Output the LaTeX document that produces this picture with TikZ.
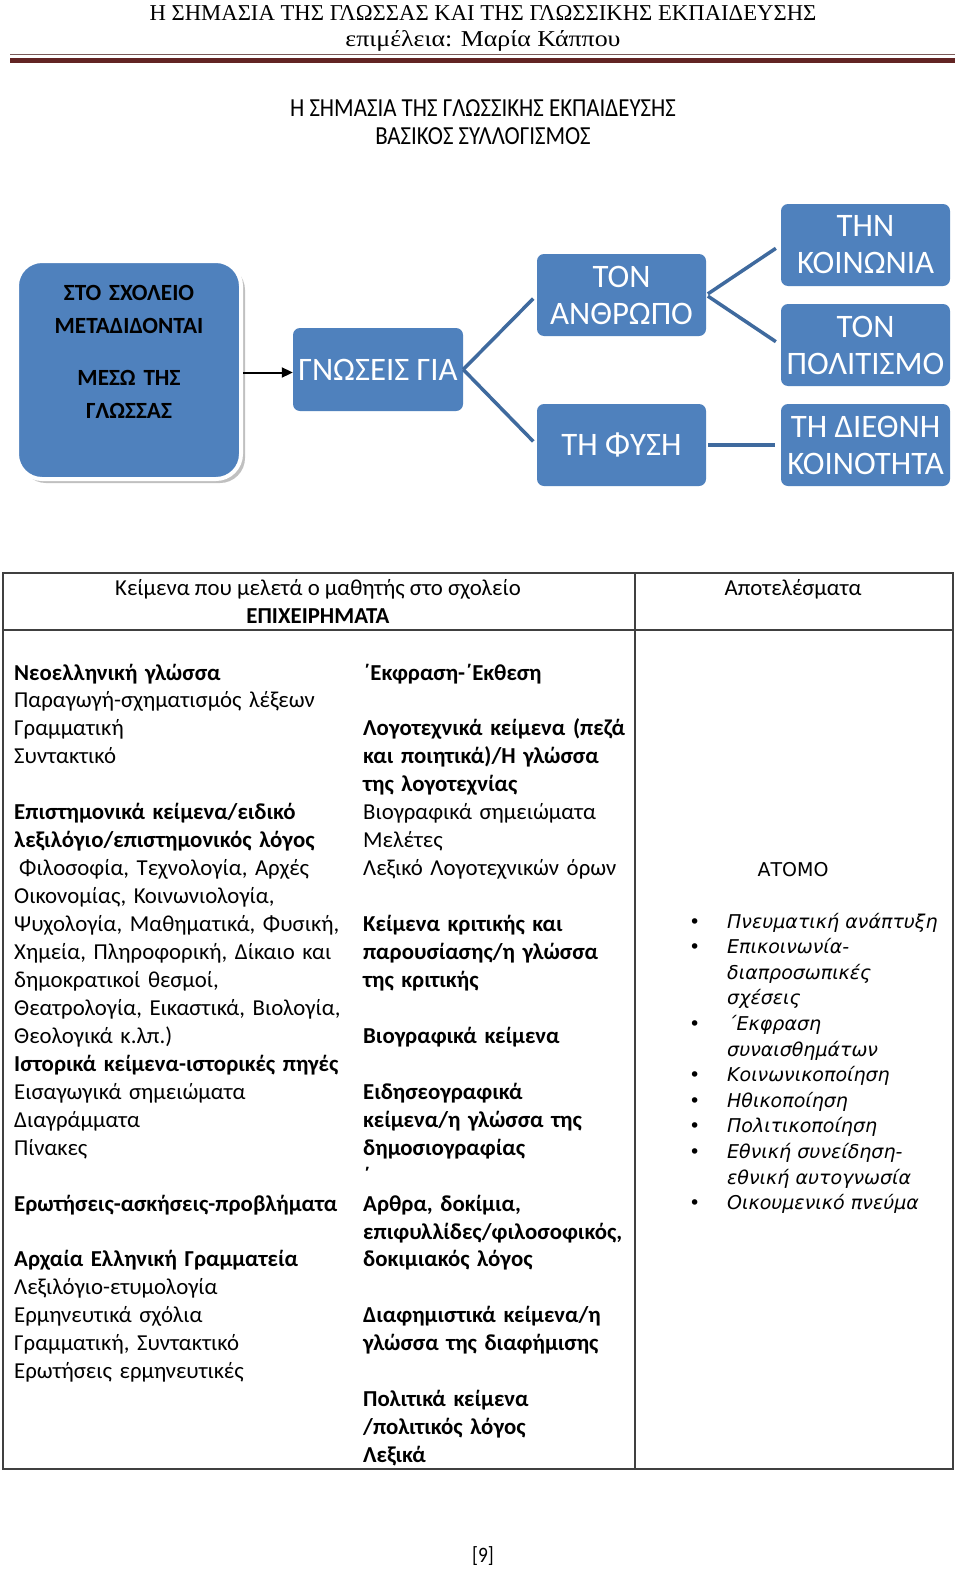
\documentclass[tikz,border=0pt]{standalone}
\usepackage{fontspec}
\setmainfont{Carlito}
\newfontfamily\hdrfont{Liberation Serif}
\newfontfamily\hdrfontw[FakeStretch=1.14]{Liberation Serif}
\newfontfamily\narrowfont[FakeStretch=0.88]{Carlito}
\newfontfamily\gothfont{DejaVu Sans}
\usetikzlibrary{arrows.meta,shadows}
\definecolor{boxblue}{HTML}{4F81BD}
\definecolor{lineblue}{HTML}{3F6A9E}
\definecolor{rulered}{HTML}{622423}
\definecolor{rulethin}{HTML}{7A5A58}
\definecolor{tblline}{HTML}{404040}
\begin{document}
\begin{tikzpicture}[x=1pt,y=-1pt,
  bluebox/.style={fill=boxblue, rounded corners=7pt, minimum width=169pt, minimum height=82pt,
     inner sep=0pt, text=white, align=center, font=\fontsize{32.8}{37}\selectfont},
  conn/.style={draw=lineblue, line width=3.5pt},
  coltext/.style={inner sep=0pt, align=left, anchor=base west, font=\fontsize{22.8}{27.95}\selectfont},
  plain/.style={inner sep=0pt, anchor=base}
]
\fill[white] (0,0) rectangle (960,1571);
\useasboundingbox (0,0) rectangle (960,1571);

% page header
\node[plain, font=\hdrfont\fontsize{22.7}{26}\selectfont] (h1) at (483,20.5) {Η ΣΗΜΑΣΙΑ ΤΗΣ ΓΛΩΣΣΑΣ ΚΑΙ ΤΗΣ ΓΛΩΣΣΙΚΗΣ ΕΚΠΑΙΔΕΥΣΗΣ};
\node[plain, font=\hdrfontw\fontsize{22.7}{26}\selectfont] (h2) at (483,46.5) {επιμέλεια: Μαρία Κάππου};
\draw[rulethin, line width=1pt] (10,55) -- (955,55);
\draw[rulered, line width=5.5pt] (10,60.3) -- (955,60.3);

\node[plain, font=\narrowfont\fontsize{26}{30}\selectfont] (t1) at (483,116.5) {Η ΣΗΜΑΣΙΑ ΤΗΣ ΓΛΩΣΣΙΚΗΣ ΕΚΠΑΙΔΕΥΣΗΣ};
\node[plain, font=\narrowfont\fontsize{26}{30}\selectfont] (t2) at (483,144.3) {ΒΑΣΙΚΟΣ ΣΥΛΛΟΓΙΣΜΟΣ};

% diagram
\node[fill=boxblue, draw=white, line width=4pt, rounded corners=25pt, minimum width=224pt, minimum height=218pt,
  drop shadow={shadow xshift=4pt, shadow yshift=-4pt, fill=gray!70, opacity=0.7}] (school) at (129,370) {};
\node[plain, text width=220pt, align=center, font=\bfseries\fontsize{23.2}{33}\selectfont] (schooltxt) at (129,300)
  {ΣΤΟ ΣΧΟΛΕΙΟ\\ ΜΕΤΑΔΙΔΟΝΤΑΙ\\[19pt] ΜΕΣΩ ΤΗΣ\\ ΓΛΩΣΣΑΣ};

\node[bluebox, minimum width=170pt, minimum height=83pt] (gnoseis) at (378,369.5) {ΓΝΩΣΕΙΣ ΓΙΑ};
\node[bluebox] (anthropo) at (621.5,295) {ΤΟΝ\\ ΑΝΘΡΩΠΟ};
\node[bluebox] (fysi) at (621.5,445) {ΤΗ ΦΥΣΗ};
\node[bluebox] (koinonia) at (865.5,245) {ΤΗΝ\\ ΚΟΙΝΩΝΙΑ};
\node[bluebox] (politismo) at (865.5,345) {ΤΟΝ\\ ΠΟΛΙΤΙΣΜΟ};
\node[bluebox] (diethni) at (865.5,445) {ΤΗ ΔΙΕΘΝΗ\\ ΚΟΙΝΟΤΗΤΑ};

\draw[line width=2pt, -{Triangle[length=11pt,width=10pt]}] ([yshift=-2.5pt]school.east) -- ([yshift=-3pt]gnoseis.west);
\draw[conn, shorten >=5pt] (gnoseis.east) -- (anthropo.west);
\draw[conn, shorten >=5pt] (gnoseis.east) -- (fysi.west);
\draw[conn, shorten >=6pt, shorten <=2pt] (anthropo.east) -- (koinonia.west);
\draw[conn, shorten >=6pt, shorten <=2pt] (anthropo.east) -- (politismo.west);
\draw[conn, shorten >=6pt, shorten <=2pt] (fysi.east) -- (diethni.west);

% table
\draw[tblline, line width=1.3pt] (3,573) rectangle (953,1469);
\draw[tblline, line width=1.3pt] (3,630) -- (953,630);
\draw[tblline, line width=1.3pt] (635,573) -- (635,1469);

\node[plain, font=\fontsize{22.8}{28}\selectfont] (hA) at (318,595) {Κείμενα που μελετά ο μαθητής στο σχολείο};
\node[plain, font=\bfseries\fontsize{22.8}{28}\selectfont] (hB) at (318,623) {ΕΠΙΧΕΙΡΗΜΑΤΑ};
\node[plain, font=\fontsize{22.8}{28}\selectfont] (hC) at (793,595) {Αποτελέσματα};

\node[coltext, text width=345pt] (colA) at (14,680) {%
\textbf{Νεοελληνική γλώσσα}\\
Παραγωγή-σχηματισμός λέξεων\\
Γραμματική\\
Συντακτικό\\[27.95pt]
\textbf{Επιστημονικά κείμενα/ειδικό}\\
\textbf{λεξιλόγιο/επιστημονικός λόγος}\\
\hspace*{5pt}Φιλοσοφία, Τεχνολογία, Αρχές\\
Οικονομίας, Κοινωνιολογία,\\
Ψυχολογία, Μαθηματικά, Φυσική,\\
Χημεία, Πληροφορική, Δίκαιο και\\
δημοκρατικοί θεσμοί,\\
Θεατρολογία, Εικαστικά, Βιολογία,\\
Θεολογικά κ.λπ.)\\
\textbf{Ιστορικά κείμενα-ιστορικές πηγές}\\
Εισαγωγικά σημειώματα\\
Διαγράμματα\\
Πίνακες\\[27.95pt]
\textbf{Ερωτήσεις-ασκήσεις-προβλήματα}\\[27.95pt]
\textbf{Αρχαία Ελληνική Γραμματεία}\\
Λεξιλόγιο-ετυμολογία\\
Ερμηνευτικά σχόλια\\
Γραμματική, Συντακτικό\\
Ερωτήσεις ερμηνευτικές};

\node[coltext, text width=290pt] (colB) at (363,680) {%
\textbf{΄Εκφραση-΄Εκθεση}\\[27.95pt]
\textbf{Λογοτεχνικά κείμενα (πεζά}\\
\textbf{και ποιητικά)/Η γλώσσα}\\
\textbf{της λογοτεχνίας}\\
Βιογραφικά σημειώματα\\
Μελέτες\\
Λεξικό Λογοτεχνικών όρων\\[27.95pt]
\textbf{Κείμενα κριτικής και}\\
\textbf{παρουσίασης/η γλώσσα}\\
\textbf{της κριτικής}\\[27.95pt]
\textbf{Βιογραφικά κείμενα}\\[27.95pt]
\textbf{Ειδησεογραφικά}\\
\textbf{κείμενα/η γλώσσα της}\\
\textbf{δημοσιογραφίας}\\
\textbf{΄}\\
\textbf{Αρθρα, δοκίμια,}\\
\textbf{επιφυλλίδες/φιλοσοφικός,}\\
\textbf{δοκιμιακός λόγος}\\[27.95pt]
\textbf{Διαφημιστικά κείμενα/η}\\
\textbf{γλώσσα της διαφήμισης}\\[27.95pt]
\textbf{Πολιτικά κείμενα}\\
\textbf{/πολιτικός λόγος}\\
\textbf{Λεξικά}};

\node[plain, font=\gothfont\fontsize{19}{25.6}\selectfont] (atomo) at (793,876) {ΑΤΟΜΟ};
\node[coltext, text width=20pt, font=\gothfont\fontsize{19}{25.6}\selectfont] (bullets) at (689,928) {%
•\\•\\~\\~\\•\\~\\•\\•\\•\\•\\~\\•};
\node[coltext, text width=225pt, font=\gothfont\itshape\fontsize{19}{25.6}\selectfont] (colC) at (727,928) {%
Πνευματική ανάπτυξη\\
Επικοινωνία-\\
διαπροσωπικές\\
σχέσεις\\
΄Εκφραση\\
συναισθημάτων\\
Κοινωνικοποίηση\\
Ηθικοποίηση\\
Πολιτικοποίηση\\
Εθνική συνείδηση-\\
εθνική αυτογνωσία\\
Οικουμενικό πνεύμα};

\node[plain, font=\narrowfont\fontsize{22}{26}\selectfont] (pageno) at (483,1562) {[9]};
\end{tikzpicture}
\end{document}
